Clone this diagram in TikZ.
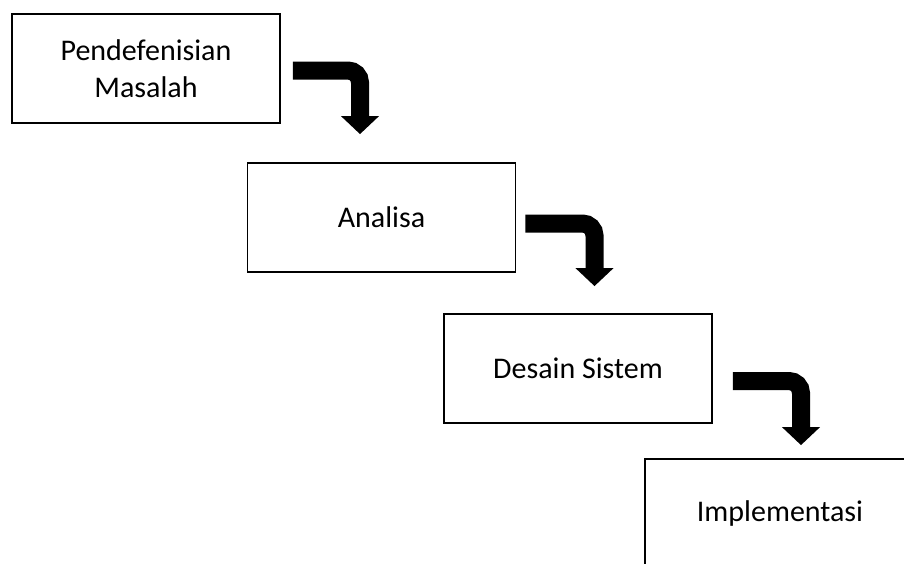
\documentclass[tikz,border=0pt]{standalone}
\usepackage{fontspec}
\setmainfont{Carlito}
\usetikzlibrary{arrows.meta,calc}
\definecolor{boxline}{RGB}{0,0,0}
\definecolor{flowfill}{RGB}{0,0,0}

\begin{document}
\begin{tikzpicture}[x=1pt,y=-1pt,
  stage/.style={draw=boxline,line width=1.8pt,minimum width=268pt,
    minimum height=109pt,align=center,font=\fontsize{30}{37}\selectfont},
  flow/.style={draw=flowfill,line width=18pt,rounded corners=12pt,
    -{Triangle[width=37pt,length=18pt]}}]
\clip(0,0)rectangle(904,563);
\node[stage](pm)at(146,68.5){Pendefenisian\\Masalah};
\node[stage](an)at(381.5,217.5){Analisa};
\node[stage](ds)at(578,368.5){Desain Sistem};
\node[stage,minimum width=270pt](im)at(780,513.5){Implementasi};
\coordinate(s1)at($(pm.east)+(12,2)$);
\coordinate(t1)at($(an.north)+(-21.5,-28)$);
\coordinate(s2)at($(an.east)+(9,6)$);
\coordinate(t2)at($(ds.north)+(16.5,-27)$);
\coordinate(s3)at($(ds.east)+(20,12.5)$);
\coordinate(t3)at($(im.north)+(21,-13)$);
\foreach \s/\t in {s1/t1,s2/t2,s3/t3}
  \draw[flow](\s)-|(\t);
\end{tikzpicture}
\end{document}
